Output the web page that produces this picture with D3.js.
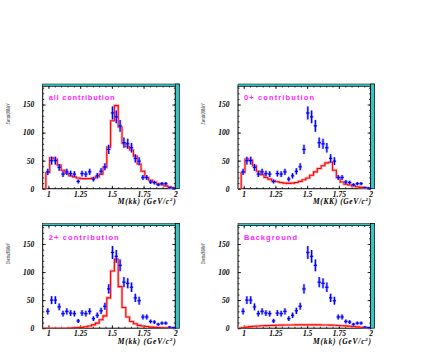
<!DOCTYPE html>
<html>
<head>
<meta charset="utf-8">
<script src="https://cdn.jsdelivr.net/npm/d3@7"></script>
<style>
body { margin: 0; background: #fff; }
svg { display: block; }
.tk text { font-family: "Liberation Serif", serif; font-style: italic; font-weight: bold; font-size: 7.5px; }
</style>
</head>
<body>
<svg width="447" height="354"></svg>
<script>
// M(KK) bin centres, 30 MeV bins
const massBins = [0.995, 1.025, 1.055, 1.085, 1.115, 1.145, 1.175, 1.205, 1.235, 1.265,
    1.295, 1.325, 1.355, 1.385, 1.415, 1.445, 1.475, 1.505, 1.535, 1.565,
    1.595, 1.625, 1.655, 1.685, 1.715, 1.745, 1.775, 1.805, 1.835, 1.865,
    1.895, 1.925, 1.955, 1.985];
// events per bin (data, blue crosses)
const dataCounts = [30, 50, 50, 38, 26, 30, 27, 26, 13, 27, 26, 30, 17, 23, 31, 39, 70, 135, 128, 112,
    82, 80, 73, 54, 49, 20, 20, 12, 11, 7, 9, 9, 2, 1];
// fit components (red histograms)
const allFit = [29, 55, 53, 42, 33, 27, 23, 21, 19, 18, 18, 18, 19, 21, 26, 38, 74, 121, 148, 110,
    81, 75, 69, 58, 44, 31, 20, 15, 12, 9, 7, 5, 3.5, 2];
const zeroFit = [29, 53, 51, 41, 31, 25, 20, 17, 14, 12.5, 11, 10, 9.5, 10, 11, 13, 16, 19, 24, 30,
    36, 41, 46, 47, 33, 20, 12, 8, 6.5, 5, 3.6, 2.4, 1.8, 1.2];
const twoFit = [0, 0, 0, 0, 0, 0, 0.3, 0.6, 1, 1.5, 2.5, 4, 6, 9, 15, 22, 54, 102, 123, 74,
    37, 20, 12, 8, 5, 4, 3, 2, 1.5, 1, 0.8, 0.5, 0.3, 0.2];
const bkgFit = [0.8, 2.0, 2.8, 3.4, 3.9, 4.3, 4.6, 4.9, 5.1, 5.3, 5.5, 5.6, 5.7, 5.8, 5.9, 5.9, 6.0, 6.0, 6.0, 6.0,
    5.9, 5.8, 5.6, 5.4, 5.2, 4.9, 4.5, 4.1, 3.6, 3.0, 2.4, 1.7, 1.1, 0.4];

const panelTitles = ['all contribution', '0+ contribution', '2+ contribution', 'Background'];
const xTitles = ['M(kk)', 'M(KK)', 'M(kk)', 'M(kk)'];
const xTickValues = [1, 1.25, 1.5, 1.75, 2];
const yTickValues = [0, 50, 100, 150];
const binWidth = 0.03;

const svg = d3.select('svg');
svg.append('rect').attr('width', 447).attr('height', 354).attr('fill', '#fff');

const pw = 132.6, ph = 102.7;
const panels = [
    {x0: 42.7, y0: 86,    fit: allFit,  tlen: 66},
    {x0: 238,  y0: 86,    fit: zeroFit, tlen: 70},
    {x0: 42.7, y0: 225.5, fit: twoFit,  tlen: 70},
    {x0: 238,  y0: 225.5, fit: bkgFit,  tlen: 53}
];

const x = d3.scaleLinear().domain([0.955, 2.0]).range([0, pw]);
const y = d3.scaleLinear().domain([0, 183]).range([ph, 0]);

const step = d3.line().x(d => x(d[0])).y(d => y(d[1])).curve(d3.curveStepAfter);

panels.forEach((p, i) => {
    const g = svg.append('g').attr('transform', `translate(${p.x0},${p.y0})`);

    g.append('clipPath').attr('id', 'clip' + i)
        .append('rect').attr('width', pw).attr('height', ph);

    // ticks: major with labels, minor without, mirrored on top/right
    g.append('g').attr('class', 'tk').attr('transform', `translate(0,${ph})`)
        .call(d3.axisBottom(x).tickValues(xTickValues).tickSize(-3).tickPadding(2.5).tickFormat(d3.format('')));
    g.append('g').attr('class', 'tk').attr('transform', `translate(0,${ph})`)
        .call(d3.axisBottom(x).tickValues(d3.range(1, 2.001, 0.05)).tickSize(-1.5).tickFormat(''));
    g.append('g').attr('class', 'tk')
        .call(d3.axisTop(x).tickValues(xTickValues).tickSize(-3).tickFormat(''));
    g.append('g').attr('class', 'tk')
        .call(d3.axisTop(x).tickValues(d3.range(1, 2.001, 0.05)).tickSize(-1.5).tickFormat(''));
    g.append('g').attr('class', 'tk')
        .call(d3.axisLeft(y).tickValues(yTickValues).tickSize(-3).tickPadding(8.5));
    g.append('g').attr('class', 'tk')
        .call(d3.axisLeft(y).tickValues(d3.range(0, 181, 10)).tickSize(-1.5).tickFormat(''));
    g.append('g').attr('class', 'tk').attr('transform', `translate(${pw},0)`)
        .call(d3.axisRight(y).tickValues(yTickValues).tickSize(-3).tickFormat(''));
    g.append('g').attr('class', 'tk').attr('transform', `translate(${pw},0)`)
        .call(d3.axisRight(y).tickValues(d3.range(0, 181, 10)).tickSize(-1.5).tickFormat(''));
    g.selectAll('.tk .domain').remove();
    g.selectAll('.tk line').attr('stroke', '#000').attr('stroke-width', 0.8);

    // frame
    g.append('rect').attr('width', pw).attr('height', ph)
        .attr('fill', 'none').attr('stroke', '#000').attr('stroke-width', 1);

    // fit histogram
    const pts = [[x.domain()[0], 0]];
    p.fit.forEach((v, k) => pts.push([massBins[k] - binWidth / 2, v]));
    pts.push([x.domain()[1], 0]);
    const hist = g.append('g').attr('clip-path', `url(#clip${i})`);
    hist.append('path').attr('d', step(pts)).attr('fill', 'none')
        .attr('stroke', '#ff8a8a').attr('stroke-width', 2.6).attr('opacity', 0.7);
    hist.append('path').attr('d', step(pts)).attr('fill', 'none')
        .attr('stroke', '#ff0000').attr('stroke-width', 1.1);

    // data with sqrt(N) errors
    const pts2 = massBins.map((c, k) => ({c: c, n: dataCounts[k]}));
    [['#8f8fff', 2.6, 0.7], ['#0000ff', 1.2, 1]].forEach(([col, w, op]) => {
        const dg = g.append('g').attr('stroke', col).attr('stroke-width', w).attr('opacity', op);
        dg.selectAll('.ev').data(pts2).enter().append('line')
            .attr('x1', d => x(d.c)).attr('x2', d => x(d.c))
            .attr('y1', d => y(d.n + Math.sqrt(d.n))).attr('y2', d => y(Math.max(0, d.n - Math.sqrt(d.n))));
        dg.selectAll('.eh').data(pts2).enter().append('line')
            .attr('x1', d => x(d.c - 0.013)).attr('x2', d => x(d.c + 0.013))
            .attr('y1', d => y(d.n)).attr('y2', d => y(d.n));
    });

    // teal shadow bars, top and right
    g.append('rect').attr('x', 0).attr('y', -2).attr('width', pw + 4).attr('height', 2.2)
        .attr('fill', '#38c4c4').attr('stroke', '#000').attr('stroke-width', 0.5);
    g.append('rect').attr('x', pw).attr('y', -2).attr('width', 4).attr('height', ph + 2)
        .attr('fill', '#38c4c4').attr('stroke', '#000').attr('stroke-width', 0.7);

    // panel title
    g.append('text').attr('x', 6).attr('y', 14).text(panelTitles[i])
        .attr('font-family', 'Liberation Sans, sans-serif').attr('font-size', 7.5)
        .attr('font-weight', 'bold')
        .attr('fill', '#ff22ff').attr('textLength', p.tlen).attr('lengthAdjust', 'spacing');

    // axis titles
    const xt = g.append('text').attr('x', pw + 0.5).attr('y', ph + 15.5).attr('text-anchor', 'end')
        .attr('font-family', 'Liberation Serif, serif').attr('font-style', 'italic')
        .attr('font-weight', 'bold').attr('font-size', 7.5)
        .attr('textLength', 58).attr('lengthAdjust', 'spacing');
    xt.append('tspan').text(xTitles[i] + ' (GeV/c');
    xt.append('tspan').attr('dy', -3).attr('font-size', 5).text('2');
    xt.append('tspan').attr('dy', 3).text(')');

    g.append('text').attr('transform', `translate(-33,28) rotate(-90)`)
        .attr('text-anchor', 'middle').text('Events/30MeV')
        .attr('font-family', 'Liberation Serif, serif').attr('font-style', 'italic')
        .attr('font-size', 6.5).attr('textLength', 21).attr('lengthAdjust', 'spacingAndGlyphs');
});
</script>
</body>
</html>
